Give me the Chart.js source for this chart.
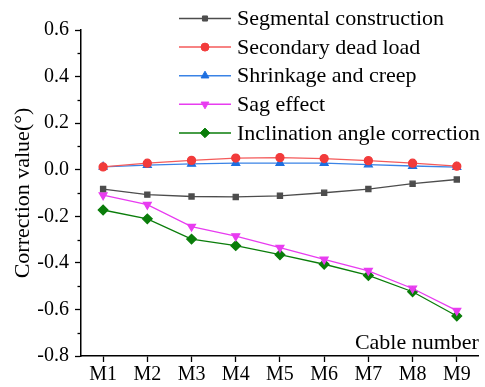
<!DOCTYPE html>
<html><head><meta charset="utf-8">
<script src="https://cdn.jsdelivr.net/npm/chart.js@4"></script>
<style>html,body{margin:0;padding:0;background:#fff}#w{width:485px;height:387px}</style>
</head><body><div id="w"><canvas id="c"></canvas></div>
<script>
const categories = ['M1','M2','M3','M4','M5','M6','M7','M8','M9'];
const seriesNames = ['Segmental construction','Secondary dead load','Shrinkage and creep','Sag effect','Inclination angle correction'];
const segmental = [-0.083,-0.107,-0.115,-0.117,-0.112,-0.099,-0.083,-0.060,-0.042];
const secondaryDead = [0.012,0.028,0.040,0.050,0.052,0.048,0.039,0.028,0.015];
const shrinkage = [0.012,0.020,0.025,0.028,0.028,0.028,0.022,0.016,0.011];
const sag = [-0.109,-0.150,-0.244,-0.285,-0.335,-0.385,-0.434,-0.510,-0.605];
const inclination = [-0.173,-0.211,-0.298,-0.326,-0.365,-0.406,-0.454,-0.524,-0.628];
const yTicks = [-0.8,-0.6,-0.4,-0.2,0.0,0.2,0.4,0.6];

const FONT = 'Liberation Serif';
function ds(label, data, color, lineColor, style, rot, r){
  return {label, data, borderColor: lineColor, backgroundColor: color, pointBorderColor: color, pointStyle: style,
    pointRotation: rot||0, pointRadius: r||4, pointHoverRadius: r||4, borderWidth: 1.3, tension: 0};
}
const datasets = [
  ds(seriesNames[0], segmental, '#4d4d4d', '#4d4d4d', 'rect', 0, 3.6),
  ds(seriesNames[1], secondaryDead, '#f23b3b', '#f45a5a', 'circle', 0, 4),
  ds(seriesNames[2], shrinkage, '#1e6fe0', '#3a83e6', 'triangle', 0, 4.5),
  ds(seriesNames[3], sag, '#e83cf0', '#e83cf0', 'triangle', 180, 4.5),
  ds(seriesNames[4], inclination, '#0a7d0a', '#0a7d0a', 'rectRot', 0, 4.8)
];

const extras = {
  id: 'extras',
  afterDraw(chart){
    const ctx = chart.ctx;
    const a = chart.chartArea, y = chart.scales.y;
    ctx.save();
    ctx.strokeStyle = '#000'; ctx.lineWidth = 1.3;
    for (let i = 0; i < yTicks.length - 1; i++) {
      const v = (yTicks[i] + yTicks[i+1]) / 2;
      const p = Math.round(y.getPixelForValue(v)) + 0.5;
      ctx.beginPath(); ctx.moveTo(a.left - 3.5, p); ctx.lineTo(a.left, p); ctx.stroke();
    }
    ctx.fillStyle = '#000'; ctx.font = '22px "' + FONT + '"';
    ctx.textAlign = 'right'; ctx.textBaseline = 'alphabetic';
    ctx.fillText('Cable number', a.right, a.bottom - 7);
    ctx.textAlign = 'left'; ctx.textBaseline = 'middle';
    chart.data.datasets.forEach((d, i) => {
      const ly = 18.5 + i * 28.6;
      const x0 = 179, x1 = 231;
      ctx.strokeStyle = d.borderColor; ctx.lineWidth = 1.5;
      ctx.beginPath(); ctx.moveTo(x0, ly); ctx.lineTo(x1, ly); ctx.stroke();
      ctx.fillStyle = d.backgroundColor; ctx.strokeStyle = d.pointBorderColor; ctx.lineWidth = 1;
      Chart.helpers.drawPoint(ctx, {pointStyle: d.pointStyle, rotation: d.pointRotation, radius: d.pointRadius, borderWidth: 1}, (x0 + x1) / 2, ly);
      ctx.fillStyle = '#000';
      ctx.fillText(d.label, 237, ly + 1);
    });
    ctx.restore();
  }
};

new Chart(document.getElementById('c'), {
  type: 'line',
  data: { labels: categories, datasets },
  plugins: [extras],
  options: {
    responsive: true, maintainAspectRatio: false, animation: false,
    layout: { padding: { left: 10, right: 2, top: 30, bottom: 0 } },
    plugins: { legend: { display: false }, tooltip: { enabled: false } },
    scales: {
      x: {
        offset: true,
        grid: { display: true, drawOnChartArea: false, drawTicks: true, tickLength: 6, tickColor: '#000', tickWidth: 1.3 },
        border: { display: true, color: '#000', width: 1.5 },
        ticks: { color: '#000', font: { family: FONT, size: 20 }, padding: 1, maxRotation: 0 },
        afterFit(s){ s.height = 31; }
      },
      y: {
        min: -0.8, max: 0.6,
        afterBuildTicks(s){ s.ticks = yTicks.map(v => ({value: v})); },
        grid: { display: true, drawOnChartArea: false, drawTicks: true, tickLength: 6, tickColor: '#000', tickWidth: 1.3 },
        border: { display: true, color: '#000', width: 1.5 },
        ticks: { color: '#000', font: { family: FONT, size: 20 }, padding: 6,
          callback: v => (Math.abs(v) < 1e-9 ? 0 : v).toFixed(1) },
        title: { display: true, text: 'Correction value(°)', color: '#000', font: { family: FONT, size: 22 }, padding: { top: 0, bottom: 2 } },
        afterFit(s){ s.width = 71; }
      }
    }
  }
});
</script></body></html>
